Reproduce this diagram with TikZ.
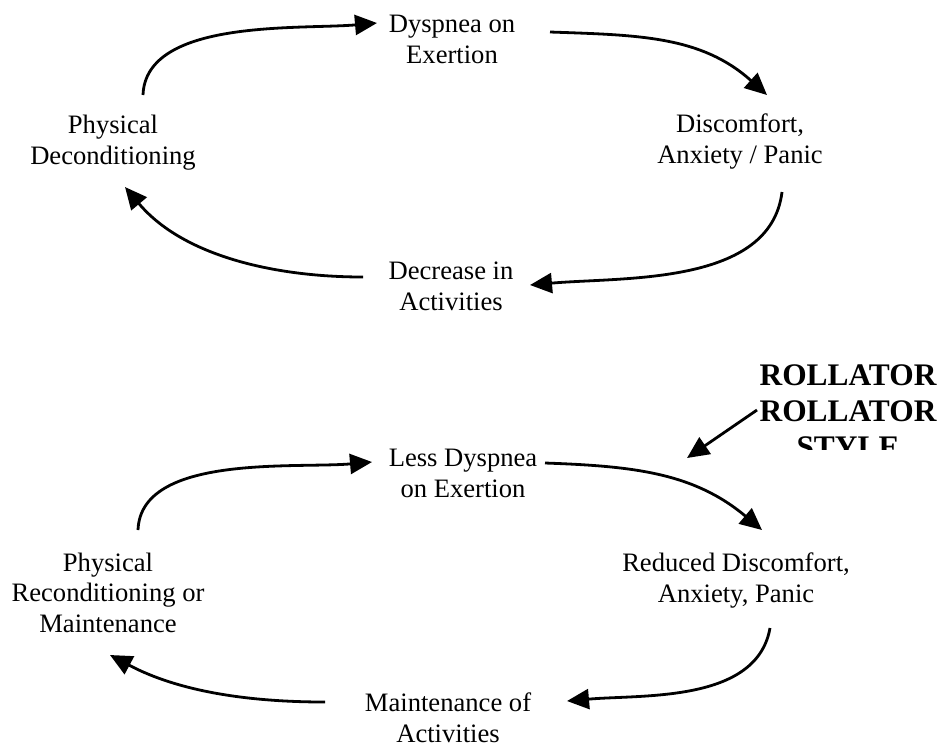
\documentclass[tikz,border=0pt]{standalone}
\usepackage{fontspec}
\setmainfont{Liberation Serif}
\usetikzlibrary{arrows.meta,calc}
\tikzset{%
  stage/.style={align=center,anchor=base,inner sep=0pt,font=\fontsize{13.3}{15.25}\selectfont},
  walker/.style={align=center,anchor=base,inner sep=0pt,font=\fontsize{15.7}{18}\selectfont\bfseries},
  flow/.style={-{Triangle[length=11pt,width=10pt]},line width=1.4pt}%
}

\begin{document}
\begin{tikzpicture}[x=0.5pt,y=-0.5pt]
      \useasboundingbox (0,0) rectangle (945,746);

      % deconditioning cycle
      \node (dys)  [stage] at (452,63)  {Dyspnea on\\Exertion};
      \node (disc) [stage] at (740,163) {Discomfort,\\Anxiety / Panic};
      \node (decr) [stage] at (451,310) {Decrease in\\Activities};
      \node (deco) [stage] at (113,164) {Physical\\Deconditioning};

      \path ($(deco.base)+(30,-69)$) edge[flow, out=88, in=185, looseness=0.8] ($(dys.base)+(-75,-40)$);
      \path ($(dys.base)+(98,-31)$)  edge[flow, out=-2, in=138] ($(disc.base)+(27,-68)$);
      \path ($(disc.base)+(42,29)$)  edge[flow, out=-97, in=5, looseness=0.9] ($(decr.base)+(79,-25)$);
      \path ($(decr.base)+(-88,-33)$) edge[flow, out=180, in=-50, looseness=0.9] ($(deco.base)+(12,23)$);

      % reconditioning cycle
      \node (less)  [stage] at (463,497) {Less Dyspnea\\on Exertion};
      \node (red)   [stage] at (736,602) {Reduced Discomfort,\\Anxiety, Panic};
      \node (maint) [stage] at (448,742) {Maintenance of\\Activities};
      \node (reco)  [stage] at (108,632) {Physical\\Reconditioning or\\Maintenance};

      \path ($(reco.base)+(30,-102)$)  edge[flow, out=88, in=185, looseness=0.8] ($(less.base)+(-91,-35)$);
      \path ($(less.base)+(82,-34)$)   edge[flow, out=-2, in=140] ($(red.base)+(26,-72)$);
      \path ($(red.base)+(34,26)$)     edge[flow, out=-100, in=5, looseness=0.9] ($(maint.base)+(119,-41)$);
      \path ($(maint.base)+(-123,-40)$) edge[flow, out=180, in=-28, looseness=0.9] ($(reco.base)+(2,23)$);

      % rollator label, cut off at the bottom
      \begin{scope}
        \clip (690,340) rectangle (945,449);
        \node (rol) [walker] at (848,457) {ROLLATOR\\ROLLATOR\\STYLE};
      \end{scope}
      \path ($(rol.base)+(-91,-47)$) edge[flow] ($(rol.base)+(-161,1)$);
\end{tikzpicture}
\end{document}
